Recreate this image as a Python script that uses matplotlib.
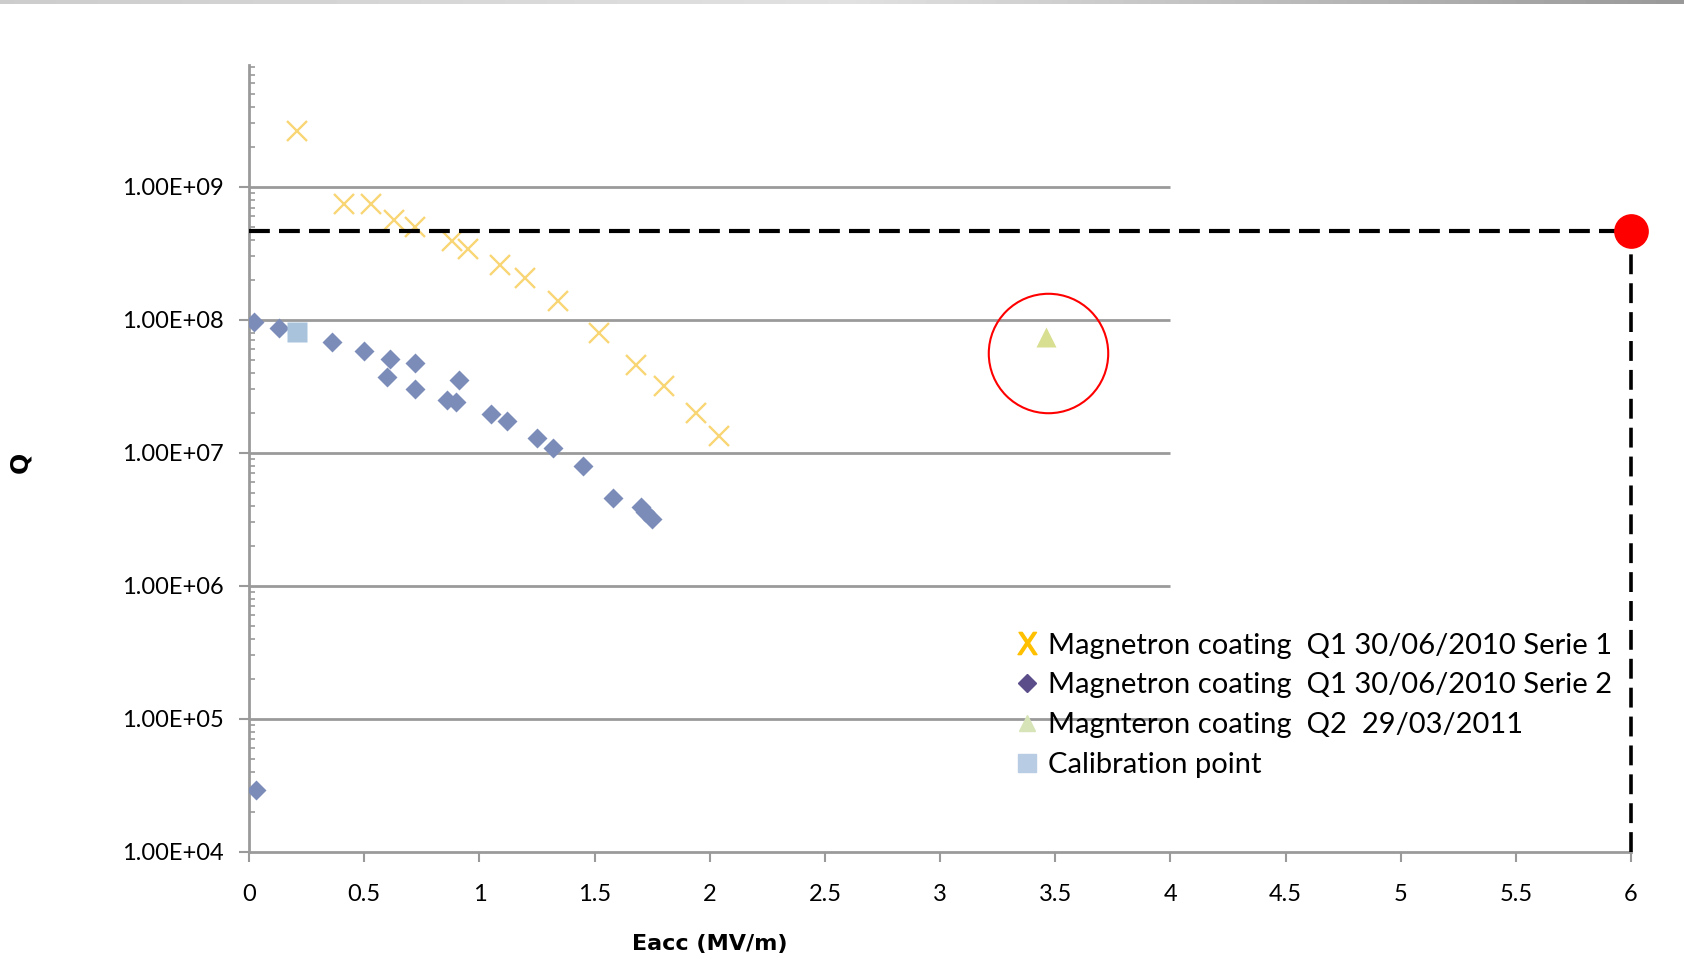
import numpy as np
import matplotlib.pyplot as plt
from matplotlib.lines import Line2D

# Serie 1 (yellow crosses)
eacc_s1 = [0.21, 0.41, 0.53, 0.63, 0.72, 0.88, 0.95, 1.09, 1.20, 1.34, 1.52, 1.68, 1.80, 1.94, 2.04]
q_s1 = [2.63e9, 7.4e8, 7.4e8, 5.6e8, 5.0e8, 3.9e8, 3.4e8, 2.6e8, 2.06e8, 1.39e8, 8.0e7, 4.6e7, 3.2e7, 2.0e7, 1.34e7]

# Serie 2 (blue diamonds)
eacc_s2 = [0.02, 0.13, 0.36, 0.50, 0.61, 0.60, 0.72, 0.72, 0.91, 0.86, 0.90, 1.05, 1.12,
           1.25, 1.32, 1.45, 1.58, 1.70, 1.72, 1.75, 0.03]
q_s2 = [9.7e7, 8.7e7, 6.8e7, 5.8e7, 5.1e7, 3.7e7, 4.7e7, 3.0e7, 3.5e7, 2.5e7, 2.4e7, 1.96e7, 1.73e7,
        1.29e7, 1.08e7, 8.0e6, 4.55e6, 3.9e6, 3.6e6, 3.2e6, 2.9e4]

# Q2 point (green triangle) and calibration point
eacc_q2 = [3.46]
q_q2 = [7.4e7]
eacc_cal = [0.21]
q_cal = [8.15e7]

# target point (red dot) and highlighted circle
target_eacc = 6.0
target_q = 4.67e8
circle_eacc = 3.47
circle_q = 5.65e7

labels = ['Magnetron coating  Q1 30/06/2010 Serie 1',
          'Magnetron coating  Q1 30/06/2010 Serie 2',
          'Magnteron coating  Q2  29/03/2011',
          'Calibration point']

y_ticks = [1e4, 1e5, 1e6, 1e7, 1e8, 1e9]
y_ticklabels = ['1.00E+04', '1.00E+05', '1.00E+06', '1.00E+07', '1.00E+08', '1.00E+09']
x_ticks = [0, 0.5, 1, 1.5, 2, 2.5, 3, 3.5, 4, 4.5, 5, 5.5, 6]
x_ticklabels = ['0', '0.5', '1', '1.5', '2', '2.5', '3', '3.5', '4', '4.5', '5', '5.5', '6']

tick_font = ['Lato', 'DejaVu Sans']
grey = '#9a9a9a'

fig = plt.figure(figsize=(16.84, 9.6), dpi=100)

# thin grey gradient band at the very top
bar = fig.add_axes([0, 1 - 4 / 960, 1, 4 / 960])
grad = np.concatenate([np.linspace(0.80, 0.88, 60), np.linspace(0.88, 0.60, 60)])
bar.imshow(grad[np.newaxis, :], aspect='auto', cmap='gray', vmin=0, vmax=1)
bar.axis('off')

ax = fig.add_axes([0.1479, 0.1128, 0.8207, 0.8195])
ax.set_yscale('log')
ax.set_xlim(0, 6)
ax.set_ylim(1e4, 8.26e9)

# horizontal gridlines only span the original 0-4 range
ax.hlines(y_ticks[1:], 0, 4, color=grey, lw=2, zorder=1)

ax.plot(eacc_s1, q_s1, 'x', color='#F8D675', ms=14, mew=1.7, zorder=3)
ax.plot(eacc_s2, q_s2, 'D', color='#7B8CB8', ms=10.5, mec='none', zorder=3)
ax.plot(eacc_cal, q_cal, 's', color='#A9C3DC', ms=14, mec='none', zorder=3)
ax.plot(eacc_q2, q_q2, '^', color='#D8DF90', ms=15, mec='none', zorder=3)
ax.plot(circle_eacc, circle_q, 'o', mfc='none', mec='red', ms=86, mew=1.5, zorder=4)

# dashed guide lines to the target point
ax.plot([0, target_eacc], [target_q, target_q], color='black', lw=3, dashes=(5, 2.2), zorder=4,
        clip_on=False)
ax.plot([target_eacc, target_eacc], [1e4, target_q], color='black', lw=2.6, dashes=(5.5, 2.5), zorder=4,
        clip_on=False)
ax.plot(target_eacc, target_q, 'o', color='red', ms=25, mec='none', zorder=5, clip_on=False)

for side in ['top', 'right']:
    ax.spines[side].set_visible(False)
for side in ['left', 'bottom']:
    ax.spines[side].set_color(grey)
    ax.spines[side].set_linewidth(2)

ax.set_yticks(y_ticks)
ax.set_yticklabels(y_ticklabels)
ax.set_xticks(x_ticks)
ax.set_xticklabels(x_ticklabels)
ax.tick_params(axis='y', which='major', direction='out', length=7, width=1.5, color=grey, pad=11)
ax.tick_params(axis='y', which='minor', direction='in', length=4, width=1.2, color=grey)
ax.tick_params(axis='x', which='major', direction='out', length=7, width=1.5, color=grey, pad=16)
for t in ax.get_xticklabels() + ax.get_yticklabels():
    t.set_family(tick_font)
    t.set_fontsize(17)
    t.set_color('black')

ax.set_xlabel('Eacc (MV/m)', fontsize=16, fontweight='bold', family='DejaVu Sans')
ax.xaxis.set_label_coords(2 / 6, -0.105)
ax.set_ylabel('Q', fontsize=18, fontweight='bold', family='DejaVu Sans')
ax.yaxis.set_label_coords(-0.157, 0.495)

handles = [
    Line2D([], [], ls='none', marker=r'$\mathrm{X}$', color='#FFC000', ms=16),
    Line2D([], [], ls='none', marker='D', mfc='#5B4C8A', mec='#5B4C8A', ms=9),
    Line2D([], [], ls='none', marker='^', mfc='#D6E4B8', mec='#D6E4B8', ms=12),
    Line2D([], [], ls='none', marker='s', mfc='#B8CCE4', mec='#B8CCE4', ms=13),
]
leg = ax.legend(handles, labels, loc='upper left', bbox_to_anchor=(1001 / 1684, 1 - 618 / 960),
                bbox_transform=fig.transFigure, frameon=False, borderpad=0, handlelength=0.8,
                handletextpad=0.3, labelspacing=0.47,
                prop={'family': ['Lato', 'DejaVu Sans'], 'size': 21})

fig.savefig('out.png', dpi=100)
